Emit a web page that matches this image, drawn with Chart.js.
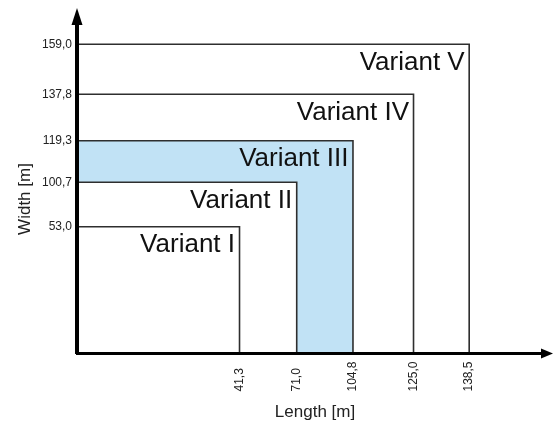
<!DOCTYPE html>
<html><head><meta charset="utf-8">
<script src="https://cdn.jsdelivr.net/npm/chart.js@4"></script>
<style>html,body{margin:0;padding:0;background:#fff}#wrap{width:555px;height:423px}</style>
</head><body><div id="wrap"><canvas id="c"></canvas></div>
<script>
// ---- data ----
const variants = ['Variant I', 'Variant II', 'Variant III', 'Variant IV', 'Variant V'];
const lengths = [41.3, 71.0, 104.8, 125.0, 138.5];
const widths = [53.0, 100.7, 119.3, 137.8, 159.0];
const xTickLabels = ['41,3', '71,0', '104,8', '125,0', '138,5'];
const yTickLabels = ['53,0', '100,7', '119,3', '137,8', '159,0'];
const xTitle = 'Length [m]';
const yTitle = 'Width [m]';

// ---- schematic (non-proportional) axis layout: share of axis length at each tick ----
const xAxisMax = 170, yAxisMax = 175;
const xTickShare = [0.3495, 0.4725, 0.5935, 0.7237, 0.8434];
const yTickShare = [0.3848, 0.5196, 0.6458, 0.7867, 0.9384];
const BREAKS = {
  x: [[0, 0]].concat(lengths.map((v, i) => [v, xTickShare[i]]), [[xAxisMax, 1]]),
  y: [[0, 0]].concat(widths.map((v, i) => [v, yTickShare[i]]), [[yAxisMax, 1]])
};
const fills = ['#ffffff', '#ffffff', '#c1e2f5', null, null];
const FONT = '"Liberation Sans", Arial, sans-serif';

function interp(v, pts, from, to) {
  for (let i = 1; i < pts.length; i++) {
    const p0 = pts[i - 1], p1 = pts[i];
    if (v <= p1[from] || i === pts.length - 1) {
      return p0[to] + (v - p0[from]) * (p1[to] - p0[to]) / (p1[from] - p0[from]);
    }
  }
}
class PiecewiseScale extends Chart.LinearScale {
  getPixelForValue(value) {
    if (value === null || value === undefined || isNaN(value)) return NaN;
    return this.getPixelForDecimal(interp(value, BREAKS[this.id], 0, 1));
  }
  getValueForPixel(pixel) {
    return interp(this.getDecimalForPixel(pixel), BREAKS[this.id], 1, 0);
  }
}
PiecewiseScale.id = 'piecewise';
PiecewiseScale.defaults = Chart.LinearScale.defaults;
Chart.register(PiecewiseScale);

const datasets = variants.map((name, i) => ({
  label: name,
  data: [{x: 0, y: widths[i]}, {x: lengths[i], y: widths[i]}, {x: lengths[i], y: 0}],
  showLine: true,
  pointRadius: 0,
  borderColor: '#2e2e2e',
  borderWidth: 1.6,
  backgroundColor: fills[i] || 'rgba(0,0,0,0)',
  fill: fills[i] ? 'origin' : false,
  order: i,
  tension: 0
}));

const maxLen = Math.max(...xTickLabels.map(s => s.length));

const decor = {
  id: 'decor',
  afterDraw(chart) {
    const {ctx, chartArea: a, scales: {x, y}} = chart;
    ctx.save();
    ctx.fillStyle = '#000';
    const x0 = x.getPixelForValue(0), y0 = y.getPixelForValue(0);
    ctx.beginPath();
    ctx.moveTo(x0, a.top - 16); ctx.lineTo(x0 - 5.5, a.top + 1); ctx.lineTo(x0 + 5.5, a.top + 1);
    ctx.closePath(); ctx.fill();
    ctx.beginPath();
    ctx.moveTo(a.right + 11, y0); ctx.lineTo(a.right - 1, y0 - 5); ctx.lineTo(a.right - 1, y0 + 5);
    ctx.closePath(); ctx.fill();
    // variant labels
    ctx.font = '26px ' + FONT;
    ctx.textAlign = 'right';
    ctx.textBaseline = 'alphabetic';
    ctx.fillStyle = '#111';
    variants.forEach((n, i) => {
      ctx.fillText(n, x.getPixelForValue(lengths[i]) - 4.5, y.getPixelForValue(widths[i]) + 25.5);
    });
    // axis titles
    ctx.font = '17px ' + FONT;
    ctx.fillStyle = '#222';
    ctx.textAlign = 'center';
    ctx.textBaseline = 'middle';
    ctx.fillText(xTitle, 315, 412);
    ctx.translate(25, 199);
    ctx.rotate(-Math.PI / 2);
    ctx.fillText(yTitle, 0, 0);
    ctx.restore();
  }
};

new Chart(document.getElementById('c'), {
  type: 'scatter',
  data: {datasets},
  plugins: [decor],
  options: {
    responsive: true,
    maintainAspectRatio: false,
    animation: false,
    layout: {padding: {top: 24, right: 13, left: 0, bottom: 0}},
    plugins: {legend: {display: false}, tooltip: {enabled: false}},
    scales: {
      x: {
        type: 'piecewise', min: 0, max: xAxisMax, position: 'bottom',
        grid: {display: false, drawTicks: false},
        border: {display: true, color: '#000', width: 3, z: 1},
        afterBuildTicks: s => { s.ticks = lengths.map(v => ({value: v})); },
        afterFit: s => { s.height = 69.5; },
        ticks: {
          autoSkip: false, minRotation: 90, maxRotation: 90, padding: 8,
          font: {size: 12, family: FONT}, color: '#222',
          callback: (v, i) => xTickLabels[i] + '  '.repeat(maxLen - xTickLabels[i].length)
        }
      },
      y: {
        type: 'piecewise', min: 0, max: yAxisMax, position: 'left',
        grid: {display: false, drawTicks: false},
        border: {display: true, color: '#000', width: 4, z: 1},
        afterBuildTicks: s => { s.ticks = widths.map(v => ({value: v})); },
        afterFit: s => { s.width = 77; },
        ticks: {
          autoSkip: false, padding: 5,
          font: {size: 12, family: FONT}, color: '#222',
          callback: (v, i) => yTickLabels[i]
        }
      }
    }
  }
});
</script>
</body></html>
